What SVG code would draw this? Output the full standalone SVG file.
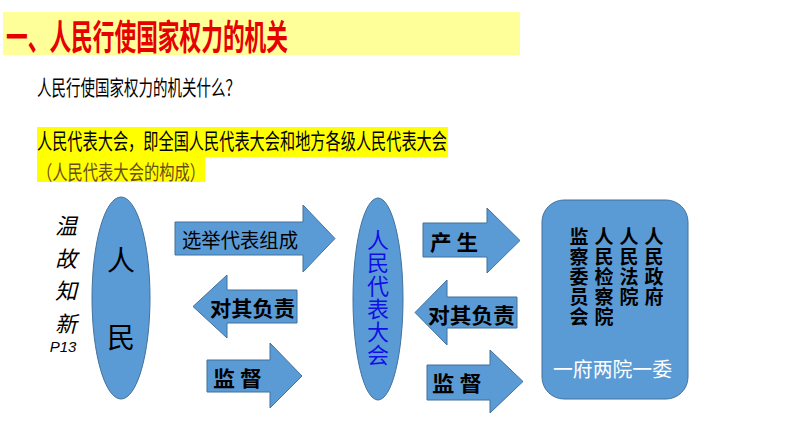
<svg xmlns="http://www.w3.org/2000/svg" width="794" height="447" viewBox="0 0 794 447">
<style>
.cjk{font-family:"Noto Sans CJK SC","Noto Sans",sans-serif}
.bold{font-weight:bold}
.vert{writing-mode:vertical-rl;text-orientation:upright}
.shape{fill:#5B9BD5;stroke:#41719C;stroke-width:1}
.lbl{font-size:20px;fill:#000}
.blbl{font-size:21px;font-weight:bold;fill:#000}
.col{font-size:19px;font-weight:bold;fill:#000;letter-spacing:1px}
</style>
<rect width="794" height="447" fill="#ffffff"/>
<g id="title">
<rect x="3" y="12" width="517" height="43" fill="#FFFF99"/>
<text class="cjk bold" x="6" y="50" font-size="35" fill="#E60000" textLength="282" lengthAdjust="spacingAndGlyphs">一、人民行使国家权力的机关</text>
</g>
<g id="question">
<text class="cjk" x="37" y="95" font-size="21" fill="#000" textLength="203" lengthAdjust="spacingAndGlyphs">人民行使国家权力的机关什么？</text>
</g>
<g id="answer">
<rect x="37" y="127" width="411" height="30" fill="#FFFF00"/>
<rect x="37" y="157" width="168" height="25" fill="#FFFF00"/>
<text class="cjk" x="37" y="149" font-size="21.5" fill="#000" textLength="410" lengthAdjust="spacingAndGlyphs">人民代表大会，即全国人民代表大会和地方各级人民代表大会</text>
<text class="cjk" x="37" y="180" font-size="20" fill="#6B4E16" textLength="168" lengthAdjust="spacingAndGlyphs">（人民代表大会的构成）</text>
</g>
<g id="review">
<text class="cjk vert" x="66" y="215" font-size="22" font-style="italic" fill="#000" letter-spacing="10.5">温故知新</text>
<text x="63" y="352" font-family="Liberation Sans, Arial, sans-serif" font-size="15" font-style="italic" text-anchor="middle" fill="#000">P13</text>
</g>
<g id="people">
<ellipse class="shape" cx="121" cy="298" rx="29" ry="101"/>
<text class="cjk vert" x="121" y="246" font-size="28" fill="#000" letter-spacing="49">人民</text>
</g>
<g id="npc">
<ellipse class="shape" cx="378" cy="299" rx="25" ry="101"/>
<text class="cjk vert" x="378" y="229" font-size="22" fill="#1010E6" letter-spacing="1">人民代表大会</text>
</g>
<g id="organs">
<rect class="shape" x="542" y="200" width="146" height="199" rx="22" ry="22"/>
<text class="cjk col vert" x="579" y="227.5">监察委员会</text>
<text class="cjk col vert" x="604" y="227.5">人民检察院</text>
<text class="cjk col vert" x="629" y="227.5">人民法院</text>
<text class="cjk col vert" x="654" y="227.5">人民政府</text>
<text class="cjk" x="553" y="377" font-size="20" fill="#FFFFFF" textLength="119" lengthAdjust="spacingAndGlyphs">一府两院一委</text>
</g>
<g id="connectors">
<polygon class="shape" points="175,222 303,222 303,205 335,238.5 303,272 303,255 175,255"/>
<text class="cjk lbl" x="182" y="248" textLength="116" lengthAdjust="spacingAndGlyphs">选举代表组成</text>
<polygon class="shape" points="297,290 227,290 227,275 193,306.5 227,338 227,323 297,323"/>
<text class="cjk blbl" x="210" y="316" textLength="85" lengthAdjust="spacingAndGlyphs">对其负责</text>
<polygon class="shape" points="207,360 270,360 270,343 302,376 270,408 270,392 207,392"/>
<text class="cjk blbl" x="213" y="386" textLength="49" lengthAdjust="spacingAndGlyphs">监 督</text>
<polygon class="shape" points="423,223 487,223 487,208 520,240.5 487,273 487,257 423,257"/>
<text class="cjk blbl" x="430" y="250" textLength="48" lengthAdjust="spacingAndGlyphs">产 生</text>
<polygon class="shape" points="517,297 447,297 447,280 415,312.5 447,345 447,328 517,328"/>
<text class="cjk blbl" x="428" y="323" textLength="87" lengthAdjust="spacingAndGlyphs">对其负责</text>
<polygon class="shape" points="427,365 490,365 490,350 523,381.5 490,413 490,400 427,400"/>
<text class="cjk blbl" x="432" y="391" textLength="50" lengthAdjust="spacingAndGlyphs">监 督</text>
</g>
</svg>
